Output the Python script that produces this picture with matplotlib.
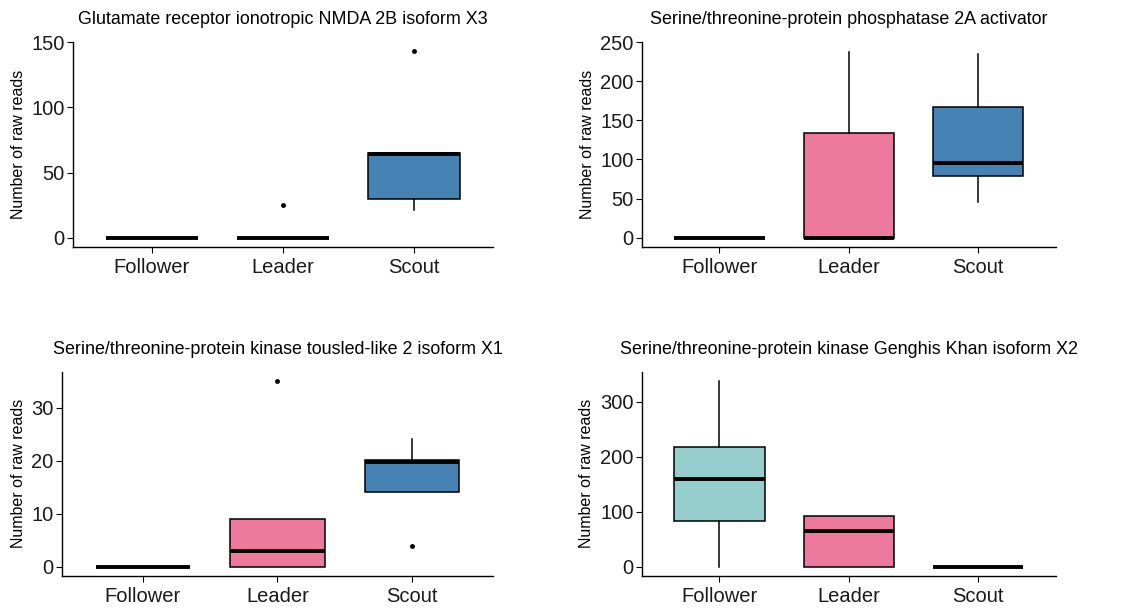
import matplotlib.pyplot as plt

plt.rcParams['font.family'] = ['Liberation Sans', 'DejaVu Sans']

groups = ['Follower', 'Leader', 'Scout']
colors = ['#96CDCD', '#EE799F', '#4682B4']

titles = [
    'Glutamate receptor ionotropic NMDA 2B isoform X3',
    'Serine/threonine-protein phosphatase 2A activator',
    'Serine/threonine-protein kinase tousled-like 2 isoform X1',
    'Serine/threonine-protein kinase Genghis Khan isoform X2',
]

# box summaries per gene: one value per group
q1 = [[0, 0, 30], [0, 0, 79.5], [0, 0, 14], [83.5, 0, 0]]
med = [[0, 0, 64], [0, 0, 96], [0, 3, 19.8], [158.6, 64.8, 0]]
q3 = [[0, 0, 65], [0, 133.5, 167], [0, 9, 20.1], [217.8, 91.5, 0]]
whislo = [[0, 0, 21.4], [0, 0, 45.5], [0, 0, 14], [0, 0, 0]]
whishi = [[0, 0, 65], [0, 237.6, 234.7], [0, 9, 24], [337.6, 91.5, 0]]
fliers = [[[], [25], [143]], [[], [], []], [[], [35], [4]], [[], [], []]]

yticks = [[0, 50, 100, 150], [0, 50, 100, 150, 200, 250],
          [0, 10, 20, 30], [0, 100, 200, 300]]
ylims = [(-7.15, 150.15), (-11.9, 250), (-1.75, 36.75), (-16.9, 354.5)]

# axes rectangles in figure fractions
rects = [
    [0.0647, 0.595, 0.3723, 0.336],
    [0.569, 0.595, 0.367, 0.336],
    [0.055, 0.0557, 0.382, 0.335],
    [0.569, 0.0557, 0.367, 0.335],
]

fig = plt.figure(figsize=(11.28, 6.10), dpi=100)

for k in range(4):
    ax = fig.add_axes(rects[k])
    stats = []
    for i in range(3):
        stats.append({'q1': q1[k][i], 'med': med[k][i], 'q3': q3[k][i],
                      'whislo': whislo[k][i], 'whishi': whishi[k][i],
                      'fliers': fliers[k][i]})
    bp = ax.bxp(stats, positions=[1, 2, 3], widths=0.7, patch_artist=True,
                showcaps=False,
                boxprops=dict(edgecolor='black', linewidth=1.1),
                medianprops=dict(color='black', linewidth=2.8,
                                 solid_capstyle='butt'),
                whiskerprops=dict(color='black', linewidth=1.1),
                flierprops=dict(marker='o', markersize=2.5,
                                markerfacecolor='black',
                                markeredgecolor='black'))
    # groups with no recorded counts get no fill
    for i, patch in enumerate(bp['boxes']):
        if q3[k][i] > 0:
            patch.set_facecolor(colors[i])
        else:
            patch.set_facecolor('none')
    ax.set_xlim(0.4, 3.6)
    ax.set_ylim(*ylims[k])
    ax.set_xticks([1, 2, 3])
    ax.set_xticklabels(groups, fontsize=14.5, color='#1a1a1a')
    ax.set_yticks(yticks[k])
    ax.tick_params(axis='y', labelsize=14.5, labelcolor='#1a1a1a', pad=2)
    ax.tick_params(axis='x', pad=4)
    ax.tick_params(length=4, width=0.8)
    ax.set_ylabel('Number of raw reads', fontsize=11.5)
    ax.set_title(titles[k], fontsize=12.9, pad=13)
    for s in ['top', 'right']:
        ax.spines[s].set_visible(False)
    for s in ['left', 'bottom']:
        ax.spines[s].set_linewidth(1.0)

fig.savefig('out.png', dpi=100)
